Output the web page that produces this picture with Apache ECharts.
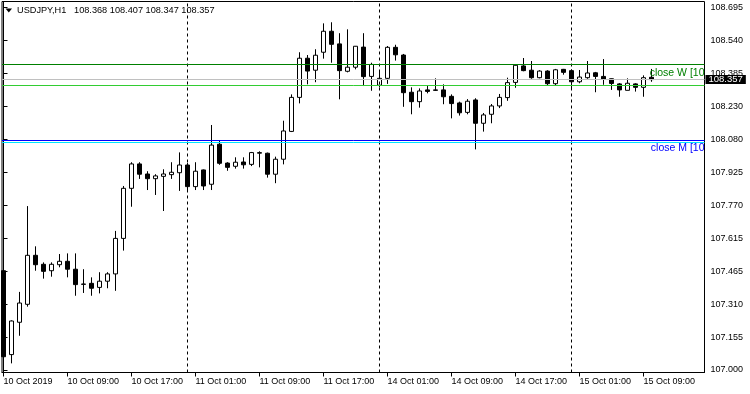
<!DOCTYPE html>
<html><head><meta charset="utf-8">
<script src="https://cdn.jsdelivr.net/npm/echarts@6/dist/echarts.min.js"></script>
<style>html,body{margin:0;padding:0;background:#fff}#c{width:750px;height:394px}</style>
</head><body><div id="c"></div>
<script>
const titleText = 'USDJPY,H1   108.368 108.407 108.347 108.357';
// hourly bars from 10 Oct 01:00 to 15 Oct 10:00 (index = bar number)
const opens = [107.464,107.072,107.223,107.307,107.536,107.494,107.464,107.492,107.508,107.471,
 107.400,107.405,107.386,107.415,107.449,107.615,107.849,107.963,107.916,107.894,
 107.905,107.913,107.922,107.958,107.857,107.935,107.868,108.055,107.967,107.952,
 107.972,107.961,108.013,108.013,107.915,107.985,108.115,108.274,108.457,108.401,
 108.485,108.583,108.524,108.396,108.415,108.509,108.372,108.331,108.363,108.508,
 108.472,108.298,108.254,108.309,108.309,108.309,108.279,108.248,108.204,108.262,
 108.153,108.195,108.234,108.273,108.344,108.421,108.401,108.366,108.397,108.338,
 108.405,108.399,108.347,108.366,108.389,108.372,108.361,108.337,108.307,108.337,
 108.321,108.368];
const highs = [107.468,107.232,107.365,107.766,107.578,107.503,107.503,107.542,107.545,107.545,
 107.471,107.433,107.457,107.457,107.650,107.860,107.971,107.971,107.929,107.915,
 107.938,107.971,108.017,107.967,107.971,107.937,108.145,108.072,107.971,107.994,
 107.994,108.019,108.022,108.016,107.997,108.165,108.288,108.485,108.472,108.499,
 108.620,108.625,108.574,108.592,108.514,108.574,108.436,108.393,108.514,108.520,
 108.477,108.321,108.316,108.327,108.363,108.335,108.288,108.254,108.266,108.270,
 108.201,108.243,108.290,108.366,108.429,108.458,108.444,108.401,108.401,108.407,
 108.407,108.405,108.402,108.444,108.393,108.453,108.362,108.341,108.363,108.340,
 108.377,108.407];
const lows = [107.023,107.031,107.160,107.296,107.464,107.427,107.436,107.480,107.433,107.347,
 107.360,107.347,107.358,107.382,107.370,107.558,107.763,107.893,107.841,107.818,
 107.743,107.893,107.837,107.837,107.841,107.841,107.841,107.959,107.931,107.941,
 107.941,107.953,107.947,107.899,107.873,107.961,108.112,108.246,108.335,108.345,
 108.455,108.436,108.265,108.391,108.405,108.327,108.305,108.321,108.337,108.446,
 108.230,108.195,108.226,108.293,108.304,108.242,108.176,108.189,108.195,108.031,
 108.114,108.153,108.224,108.258,108.319,108.396,108.361,108.363,108.332,108.330,
 108.380,108.316,108.340,108.361,108.298,108.333,108.309,108.277,108.307,108.301,
 108.277,108.347];
const closes = [107.062,107.229,107.313,107.536,107.492,107.461,107.494,107.508,107.471,107.399,
 107.402,107.382,107.415,107.449,107.615,107.849,107.963,107.915,107.894,107.907,
 107.916,107.924,107.958,107.857,107.929,107.860,108.051,107.966,107.947,107.971,
 107.959,108.016,108.016,107.915,107.985,108.117,108.274,108.457,108.397,108.471,
 108.583,108.522,108.399,108.415,108.513,108.371,108.428,108.363,108.508,108.473,
 108.296,108.254,108.304,108.302,108.307,108.277,108.245,108.202,108.256,108.153,
 108.192,108.234,108.274,108.343,108.424,108.399,108.366,108.397,108.338,108.403,
 108.391,108.347,108.369,108.388,108.372,108.360,108.339,108.309,108.340,108.321,
 108.366,108.357];
const xTickIndex = [0,8,16,24,32,40,48,56,64,72,80];
const xTickLabels = ['10 Oct 2019','10 Oct 09:00','10 Oct 17:00','11 Oct 01:00','11 Oct 09:00',
 '11 Oct 17:00','14 Oct 01:00','14 Oct 09:00','14 Oct 17:00','15 Oct 01:00','15 Oct 09:00'];
const daySeparators = [23,47,71];
const yTickLabels = ['107.000','107.155','107.310','107.465','107.615','107.770','107.925',
 '108.080','108.230','108.385','108.540','108.695'];
const closeW = 108.428, closeW2 = 108.332;
const closeM = 108.0725, closeM2 = 108.063;
const bid = 108.357;
const closeWLabel = 'close W [10', closeMLabel = 'close M [10', bidLabel = '108.357';

const yStart = parseFloat(yTickLabels[0]);
const yEnd = parseFloat(yTickLabels[yTickLabels.length - 1]);
const yStep = (yEnd - yStart) / (yTickLabels.length - 1);
const yTickValues = yTickLabels.map((_, k) => yStart + k * yStep);
const FONT = 'Liberation Sans';

const chart = echarts.init(document.getElementById('c'), null, {renderer: 'canvas'});
chart.setOption({
  animation: false,
  backgroundColor: '#fff',
  title: {
    text: titleText, left: 17, top: 6, padding: 0,
    textStyle: {fontSize: 9.2, fontWeight: 'normal', color: '#000', fontFamily: FONT, lineHeight: 9}
  },
  graphic: [{type: 'polygon', shape: {points: [[5.5, 8.5], [12, 8.5], [8.75, 12.5]]}, style: {fill: '#000'}}],
  grid: {left: 2, right: 45.5, top: 1.5, bottom: 21.5, show: true, borderColor: '#000', borderWidth: 1, backgroundColor: '#fff'},
  xAxis: {
    type: 'value', min: -0.1875, max: 87.625, position: 'bottom',
    axisLine: {show: true, lineStyle: {color: '#000', width: 1}},
    axisTick: {show: true, length: 4, customValues: xTickIndex, lineStyle: {color: '#000'}},
    splitLine: {show: false},
    axisLabel: {
      customValues: xTickIndex, align: 'left', margin: 5, fontSize: 9, color: '#000', fontFamily: FONT,
      formatter: v => xTickLabels[xTickIndex.indexOf(Math.round(v))] || ''
    }
  },
  yAxis: {
    type: 'value', position: 'right', min: 106.9883, max: 108.7221, scale: true,
    axisLine: {show: true, lineStyle: {color: '#000', width: 1}},
    axisTick: {show: true, length: 4, customValues: yTickValues, lineStyle: {color: '#000'}},
    splitLine: {show: false},
    axisLabel: {
      customValues: yTickValues, margin: 6, fontSize: 9, color: '#000', fontFamily: FONT,
      formatter: v => yTickLabels[Math.round((v - yStart) / yStep)] || ''
    }
  },
  series: [{
    type: 'candlestick',
    data: opens.map((o, i) => [i, o, closes[i], lows[i], highs[i]]),
    encode: {x: 0, y: [1, 2, 3, 4]},
    barWidth: 4,
    itemStyle: {color: '#fff', color0: '#000', borderColor: '#000', borderColor0: '#000', borderWidth: 1},
    markLine: {
      silent: true, symbol: ['none', 'none'], animation: false, precision: 4,
      data: [
        ...daySeparators.map(d => ({xAxis: d, lineStyle: {color: '#000', type: [3, 3], width: 1}, label: {show: false}})),
        {yAxis: closeW2, lineStyle: {color: '#32cd32', type: 'solid', width: 1}, label: {show: false}},
        {yAxis: bid, lineStyle: {color: '#c0c0c0', type: 'solid', width: 1},
          label: {show: true, position: 'end', distance: 1, formatter: bidLabel, color: '#fff', backgroundColor: '#000',
            padding: [0, 3], fontSize: 9.5, lineHeight: 9, fontFamily: FONT}},
        {yAxis: closeW, lineStyle: {color: '#008000', type: 'solid', width: 1},
          label: {show: true, position: 'insideEndBottom', distance: [0, 3], formatter: closeWLabel, color: '#008000',
            fontSize: 10.5, fontFamily: FONT}},
        {yAxis: closeM2, lineStyle: {color: '#00e5ff', type: 'solid', width: 1}, label: {show: false}},
        {yAxis: closeM, lineStyle: {color: '#0000ff', type: 'solid', width: 1},
          label: {show: true, position: 'insideEndBottom', distance: [0, 2.5], formatter: closeMLabel, color: '#0000ff',
            fontSize: 10.5, fontFamily: FONT}}
      ]
    }
  }]
});
</script>
</body></html>
